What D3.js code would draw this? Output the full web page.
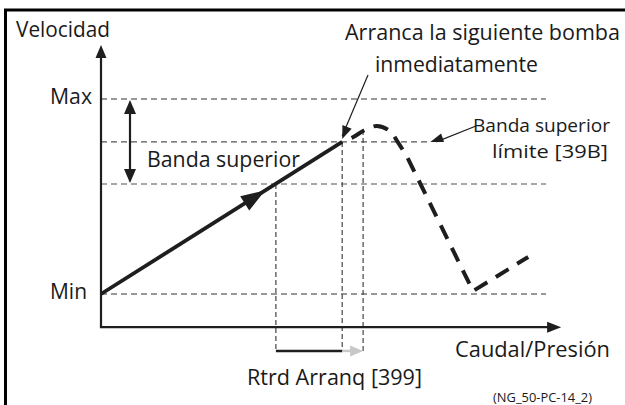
<!DOCTYPE html>
<html>
<head>
<meta charset="utf-8">
<script src="https://cdn.jsdelivr.net/npm/d3@7"></script>
<style>
  html, body { margin: 0; padding: 0; background: #fff; }
  svg { display: block; }
  text { font-family: "Open Sans", "Liberation Sans", sans-serif; fill: #1a1a1a; }
</style>
</head>
<body>
<svg id="chart" width="625" height="405"></svg>
<script>
// Speed levels (percent of the Min..Max speed range)
const levelValues = [0, 56.4, 78, 100];        // Min, band bottom, band limit [39B], Max
const levelLabels = ["Min", "", "", "Max"];
const levelEnds   = [100, 100, 74, 100];        // where each dashed level line stops (flow units)

// Solid ramp: speed rising from Min to the upper band limit
const rampX = [0, 54.2];
const rampY = [0, 78];
const rampArrowAt = 0.68;                       // direction arrow position along the ramp

// Dashed continuation: overshoot hump, drop back to Min, then rising again
const humpX = [54.2, 56.7, 59.3, 62.0, 64.9, 66.7, 68.8];
const humpY = [78, 80.5, 84.1, 86.2, 83.6, 77.9, 70.3];
const dropX = [68.8, 83.6, 96.0];
const dropY = [70.3, 1.5, 19.0];

// Vertical markers: band entry, limit reached, start delay end
const markerX   = [39.3, 54.2, 58.9];
const markerTop = [56.4, 78, 84.1];
const delayY = -29.2;                           // level of the start-delay bracket

// Axis extents
const axisY = -17;                              // flow axis level
const axisXEnd = 103.4;
const axisYEnd = 127.7;

const svg = d3.select("#chart");
const x = d3.scaleLinear().domain([0, 100]).range([101, 546]);
const y = d3.scaleLinear().domain([0, 100]).range([294, 99]);

const ink = "#1e1e1e";

function arrowHead(g, x1, y1, x2, y2, len, wid, color) {
  const a = Math.atan2(y2 - y1, x2 - x1);
  const bx = x2 - len * Math.cos(a), by = y2 - len * Math.sin(a);
  const px = -Math.sin(a) * wid / 2, py = Math.cos(a) * wid / 2;
  g.append("path")
    .attr("d", `M${x2},${y2}L${bx + px},${by + py}L${bx - px},${by - py}Z`)
    .attr("fill", color);
}

// Outer frame (top and left edges)
svg.append("path")
  .attr("d", "M5.5,405V10H625")
  .attr("fill", "none").attr("stroke", "#000").attr("stroke-width", 3);

const g = svg.append("g");

const T = (tx, ty, s, size, width) => {
  const t = g.append("text").attr("x", tx).attr("y", ty).attr("font-size", size).text(s);
  if (width) t.attr("textLength", width).attr("lengthAdjust", "spacingAndGlyphs");
  return t;
};

// Dashed speed levels
levelValues.forEach((v, i) => {
  g.append("line")
    .attr("x1", x(0)).attr("x2", x(levelEnds[i]))
    .attr("y1", y(v)).attr("y2", y(v))
    .attr("stroke", i === 1 || i === 2 ? "#555" : "#333")
    .attr("stroke-width", 1.2)
    .attr("stroke-dasharray", "6,4");
  if (levelLabels[i]) {
    T(50, y(v) + 5, levelLabels[i], 21, levelLabels[i] === "Max" ? 42 : 37);
  }
});

// Vertical dashed markers
markerX.forEach((mx, i) => {
  g.append("line")
    .attr("x1", x(mx)).attr("x2", x(mx))
    .attr("y1", y(markerTop[i])).attr("y2", y(delayY))
    .attr("stroke", "#444").attr("stroke-width", 1.2)
    .attr("stroke-dasharray", "5,3");
});

// Start-delay bracket: dark part, then grey delay arrow
g.append("line")
  .attr("x1", x(markerX[0])).attr("x2", x(markerX[1]))
  .attr("y1", y(delayY)).attr("y2", y(delayY))
  .attr("stroke", ink).attr("stroke-width", 2.5);
g.append("line")
  .attr("x1", x(markerX[1])).attr("x2", x(markerX[2]) - 10)
  .attr("y1", y(delayY)).attr("y2", y(delayY))
  .attr("stroke", "#c8c8c8").attr("stroke-width", 2.5);
arrowHead(g, x(markerX[1]), y(delayY), x(markerX[2]), y(delayY), 13, 11, "#c8c8c8");

// Axes
g.append("line")
  .attr("x1", x(0)).attr("x2", x(0))
  .attr("y1", y(axisY)).attr("y2", y(axisYEnd) + 8)
  .attr("stroke", ink).attr("stroke-width", 2.2);
arrowHead(g, x(0), y(axisY), x(0), y(axisYEnd), 13, 11, ink);
g.append("line")
  .attr("x1", x(0) - 1.1).attr("x2", x(axisXEnd) - 8)
  .attr("y1", y(axisY)).attr("y2", y(axisY))
  .attr("stroke", ink).attr("stroke-width", 2.2);
arrowHead(g, x(0), y(axisY), x(axisXEnd), y(axisY), 14, 11, ink);

// Band width double arrow
const bandArrowX = 130;
g.append("line")
  .attr("x1", bandArrowX).attr("x2", bandArrowX)
  .attr("y1", y(levelValues[3]) + 8).attr("y2", y(levelValues[1]) - 8)
  .attr("stroke", ink).attr("stroke-width", 2.2);
arrowHead(g, bandArrowX, y(levelValues[2]), bandArrowX, y(levelValues[3]) + 1, 14, 12, ink);
arrowHead(g, bandArrowX, y(levelValues[2]), bandArrowX, y(levelValues[1]) - 1, 14, 12, ink);

// Solid ramp
const line = d3.line().x(d => x(d[0])).y(d => y(d[1]));
const rampPts = rampX.map((v, i) => [v, rampY[i]]);
g.append("path").attr("d", line(rampPts))
  .attr("fill", "none").attr("stroke", ink).attr("stroke-width", 3.8);
const ax = rampX[0] + (rampX[1] - rampX[0]) * rampArrowAt;
const ay = rampY[0] + (rampY[1] - rampY[0]) * rampArrowAt;
arrowHead(g, x(rampX[0]), y(rampY[0]), x(ax), y(ay), 24, 17, ink);

// Dashed continuation (smooth hump, straight drop and rise)
const humpLine = d3.line().x(d => x(d[0])).y(d => y(d[1])).curve(d3.curveCatmullRom);
const humpD = humpLine(humpX.map((v, i) => [v, humpY[i]]));
const dropD = line(dropX.map((v, i) => [v, dropY[i]])).replace(/^M/, "L");
g.append("path").attr("d", humpD + dropD)
  .attr("fill", "none").attr("stroke", ink).attr("stroke-width", 4)
  .attr("stroke-dasharray", "15,10").attr("stroke-dashoffset", 15);

// Annotation arrows
g.append("line").attr("x1", 368).attr("y1", 75).attr("x2", x(rampX[1])).attr("y2", y(rampY[1]) - 6)
  .attr("stroke", ink).attr("stroke-width", 1.2);
arrowHead(g, 368, 75, x(rampX[1]), y(rampY[1]) - 3, 13, 10, ink);
g.append("line").attr("x1", 476).attr("y1", 126).attr("x2", x(levelEnds[2]) + 6).attr("y2", y(levelValues[2]))
  .attr("stroke", ink).attr("stroke-width", 1.2);
arrowHead(g, 476, 126, x(levelEnds[2]), y(levelValues[2]), 13, 9, ink);

// Labels
T(16, 37, "Velocidad", 21, 94);
T(147, 167, "Banda superior", 21, 153);
T(345, 40, "Arranca la siguiente bomba", 21, 275);
T(375, 72, "inmediatamente", 21, 163);
T(473, 132, "Banda superior", 19, 137);
T(492, 158, "límite [39B]", 19, 116);
T(455, 357, "Caudal/Presión", 21, 155);
T(247, 385, "Rtrd Arranq [399]", 21, 175);
T(493, 402, "(NG_50-PC-14_2)", 12, 99);
</script>
</body>
</html>
